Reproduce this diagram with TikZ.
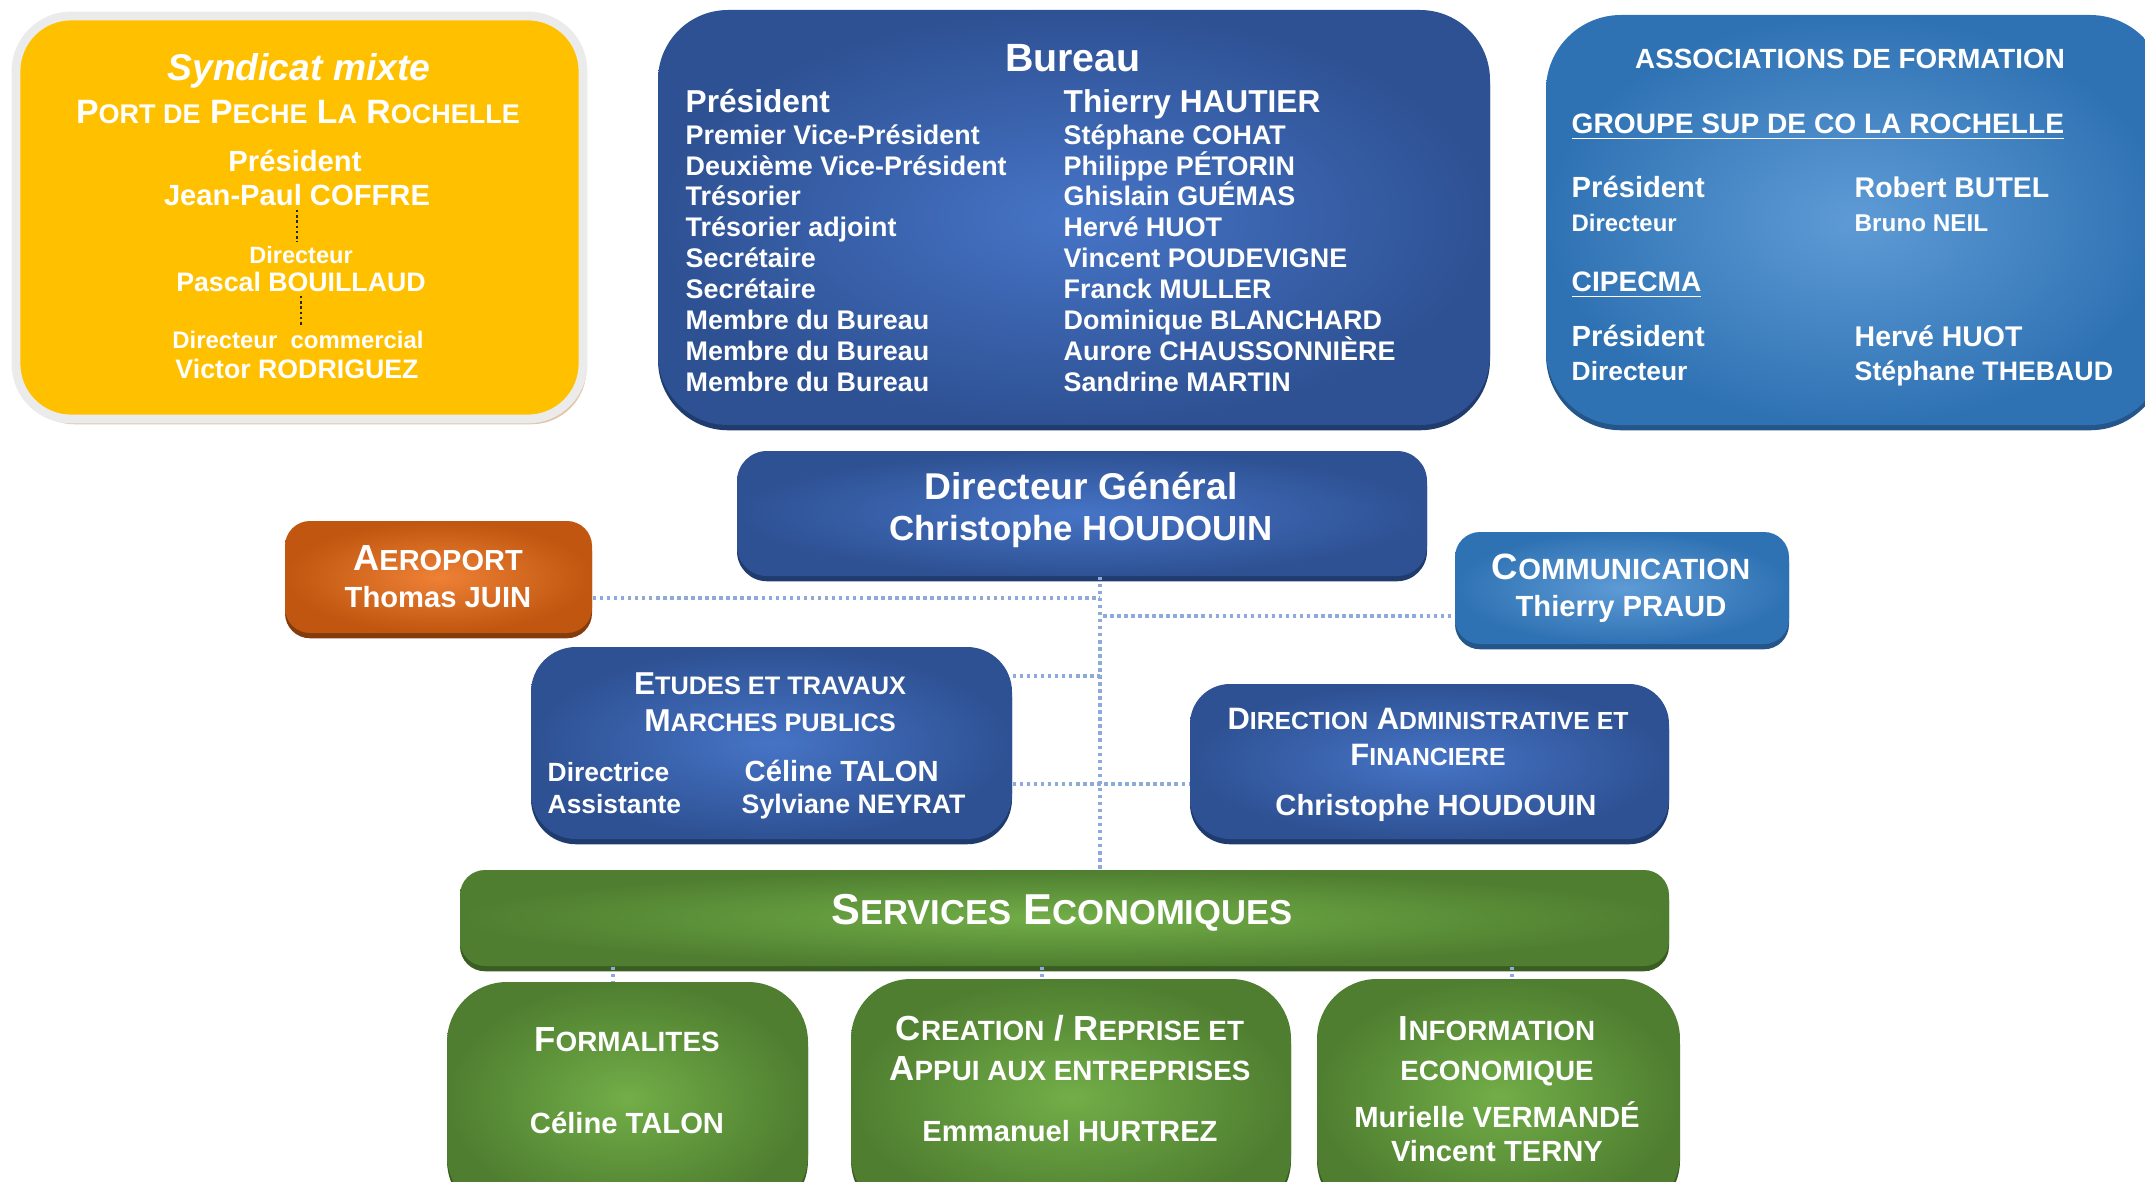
\documentclass[tikz,border=0pt]{standalone}
\usepackage{fontspec}
\setmainfont{Liberation Sans}
\usetikzlibrary{fit, shadows}

\definecolor{synyellow}{HTML}{FFC000}
\definecolor{bluein}{HTML}{4674C6}
\definecolor{blueout}{HTML}{2E5193}
\definecolor{blueshd}{HTML}{203C6E}
\definecolor{skyin}{HTML}{5E9BD6}
\definecolor{skyout}{HTML}{2F72B3}
\definecolor{skyshd}{HTML}{24568A}
\definecolor{orin}{HTML}{EE8136}
\definecolor{orout}{HTML}{C0560F}
\definecolor{orshd}{HTML}{843C0C}
\definecolor{grin}{HTML}{72AE48}
\definecolor{grout}{HTML}{4F7E30}
\definecolor{grshd}{HTML}{3A5E22}
\definecolor{linkc}{HTML}{8EAADB}

\makeatletter
\newcommand\smcap[1]{{\fontsize{\fpeval{0.8*\f@size}}{\fpeval{0.8*\f@size}}\selectfont #1}}
\makeatother
\newcommand\fsz[1]{\fontsize{#1}{#1}\selectfont}

\begin{document}
\begin{tikzpicture}[
  x=0.01cm, y=-0.01cm,
  box/.style={inner sep=0pt, rounded corners=#1},
  ybox/.style={box=#1, fill=synyellow, draw=black!8, line width=2.5pt,
               general shadow={fill=brown!45!white, shadow xshift=1pt, shadow yshift=-1.5pt}},
  darkbox/.style={box=#1, inner color=bluein, outer color=blueout,
                  general shadow={fill=blueshd, shadow yshift=-1.5pt}},
  skybox/.style={box=#1, inner color=skyin, outer color=skyout,
                 general shadow={fill=skyshd, shadow yshift=-1.5pt}},
  orbox/.style={box=#1, inner color=orin, outer color=orout,
                general shadow={fill=orshd, shadow yshift=-1.5pt}},
  greenbox/.style={box=#1, inner color=grin, outer color=grout,
                   general shadow={fill=grshd, shadow yshift=-1.5pt}},
  txt/.style={text=white, inner sep=0pt, anchor=mid},
  ltxt/.style={txt, anchor=mid west},
  link/.style={draw=linkc, line width=1pt, dash pattern=on 1pt off 1pt},
  dots/.style={draw=black!85, line width=0.7pt, dash pattern=on 0.7pt off 0.8pt}
]
\useasboundingbox (0,0) rectangle (2145,1182);

% syndicat mixte
\node[ybox=0.55cm, fit={(16,16) (583,419)}] (syndicat) {};
\node[txt, font=\bfseries\itshape\fsz{10.6}] (synd) at (299,71) {Syndicat mixte};
\node[txt, font=\bfseries\fsz{9.6}] (port) at (298,114) {P\smcap{ORT DE} P\smcap{ECHE} L\smcap{A} R\smcap{OCHELLE}};
\node[txt, font=\bfseries\fsz{8.3}] (spres) at (295,162) {Président};
\node[txt, font=\bfseries\fsz{8.3}] (coffre) at (297,196) {Jean-Paul COFFRE};
\node[txt, font=\bfseries\fsz{6.7}] (sdir) at (301,254) {Directeur};
\node[txt, font=\bfseries\fsz{7.6}] (bouillaud) at (301,282) {Pascal BOUILLAUD};
\node[txt, font=\bfseries\fsz{6.8}] (dircom) at (298,339) {Directeur~~commercial};
\node[txt, font=\bfseries\fsz{7.6}] (rodriguez) at (297,369) {Victor RODRIGUEZ};
\draw[dots, shorten <=1pt, shorten >=1pt] (coffre.south) -- (coffre.south |- sdir.north);
\draw[dots, shorten <=1pt, shorten >=1pt] (bouillaud.south) -- (bouillaud.south |- dircom.north);

% bureau
\node[darkbox=0.7cm, fit={(658,10) (1490,425)}] (bureau) {};
\node[txt, font=\bfseries\fsz{11.2}] (bureautitle) at (1073,62) {Bureau};
\node[ltxt, font=\bfseries\fsz{9}] (bpres) at (685,103) {Président};
\node[ltxt, font=\bfseries\fsz{9}] (bhautier) at (1063,103) {Thierry HAUTIER};
\foreach \role/\who [count=\i] in {Premier Vice-Président/Stéphane COHAT,
    Deuxième Vice-Président/Philippe PÉTORIN, Trésorier/Ghislain GUÉMAS,
    Trésorier adjoint/Hervé HUOT, Secrétaire/Vincent POUDEVIGNE,
    Secrétaire/Franck MULLER, Membre du Bureau/Dominique BLANCHARD,
    Membre du Bureau/Aurore CHAUSSONNIÈRE, Membre du Bureau/Sandrine MARTIN}{
  \node[ltxt, font=\bfseries\fsz{7.65}] (brole\i) at (685,{104+30.9*\i}) {\role};
  \node[ltxt, font=\bfseries\fsz{7.65}] (bname\i) at (1063,{104+30.9*\i}) {\who};
}

% associations de formation
\node[skybox=0.75cm, fit={(1546,15) (2165,425)}] (assoc) {};
\node[txt, font=\bfseries\fsz{7.9}] (assoctitle) at (1850,59) {ASSOCIATIONS DE FORMATION};
\node[ltxt, font=\bfseries\fsz{8}] (supdeco) at (1571,124) {\underline{GROUPE SUP DE CO LA ROCHELLE}};
\node[ltxt, font=\bfseries\fsz{8.3}] (apres1) at (1571,188) {Président};
\node[ltxt, font=\bfseries\fsz{8.1}] (butel) at (1854,188) {Robert BUTEL};
\node[ltxt, font=\bfseries\fsz{6.8}] (adir1) at (1571,222) {Directeur};
\node[ltxt, font=\bfseries\fsz{6.9}] (neil) at (1854,222) {Bruno NEIL};
\node[ltxt, font=\bfseries\fsz{8}] (cipecma) at (1571,282) {\underline{CIPECMA}};
\node[ltxt, font=\bfseries\fsz{8.3}] (apres2) at (1571,337) {Président};
\node[ltxt, font=\bfseries\fsz{8.1}] (huot) at (1854,337) {Hervé HUOT};
\node[ltxt, font=\bfseries\fsz{7.5}] (adir2) at (1571,371) {Directeur};
\node[ltxt, font=\bfseries\fsz{7.6}] (thebaud) at (1854,371) {Stéphane THEBAUD};

% directeur general
\node[darkbox=0.3cm, fit={(737,451) (1427,576)}] (dg) {};
\node[txt, font=\bfseries\fsz{10.6}] (dgtitle) at (1081,490) {Directeur Général};
\node[txt, font=\bfseries\fsz{9.9}] (dgname) at (1081,531) {Christophe HOUDOUIN};

% aeroport, communication
\node[orbox=0.25cm, fit={(285,521) (592,633)}] (aero) {};
\node[txt, font=\bfseries\fsz{10.3}] (aerotitle) at (438,561) {A\smcap{EROPORT}};
\node[txt, font=\bfseries\fsz{8.3}] (juin) at (438,598) {Thomas JUIN};
\node[skybox=0.25cm, fit={(1455,532) (1789,644)}] (comm) {};
\node[txt, font=\bfseries\fsz{10.4}] (commtitle) at (1621,570) {C\smcap{OMMUNICATION}};
\node[txt, font=\bfseries\fsz{8.3}] (praud) at (1621,607) {Thierry PRAUD};

% etudes et travaux
\node[darkbox=0.45cm, fit={(531,647) (1012,839)}] (etudes) {};
\node[txt, font=\bfseries\fsz{9}] (et1) at (770,685) {E\smcap{TUDES ET TRAVAUX}};
\node[txt, font=\bfseries\fsz{9}] (et2) at (770,722) {M\smcap{ARCHES PUBLICS}};
\node[ltxt, font=\bfseries\fsz{7.5}] (edir) at (547,772) {Directrice};
\node[ltxt, font=\bfseries\fsz{7.5}] (eass) at (547,804) {Assistante};
\node[ltxt, font=\bfseries\fsz{8.3}] (talon) at (744,772) {Céline TALON};
\node[ltxt, font=\bfseries\fsz{7.6}] (neyrat) at (741,804) {Sylviane NEYRAT};

% direction administrative
\node[darkbox=0.4cm, fit={(1190,684) (1669,839)}] (daf) {};
\node[txt, font=\bfseries\fsz{8.8}] (daf1) at (1428,720) {D\smcap{IRECTION} A\smcap{DMINISTRATIVE ET}};
\node[txt, font=\bfseries\fsz{8.8}] (daf2) at (1428,756) {F\smcap{INANCIERE}};
\node[txt, font=\bfseries\fsz{8.3}] (dafname) at (1436,806) {Christophe HOUDOUIN};

% services economiques
\node[greenbox=0.25cm, fit={(460,870) (1669,966)}] (seco) {};
\node[txt, font=\bfseries\fsz{12.3}] (secotitle) at (1062,915) {S\smcap{ERVICES} E\smcap{CONOMIQUES}};
\node[greenbox=0.6cm, fit={(447,982) (808,1215)}] (formal) {};
\node[txt, font=\bfseries\fsz{9.9}] (formtitle) at (627,1042) {F\smcap{ORMALITES}};
\node[txt, font=\bfseries\fsz{8.3}] (formname) at (627,1124) {Céline TALON};
\node[greenbox=0.6cm, fit={(851,979) (1291,1215)}] (creation) {};
\node[txt, font=\bfseries\fsz{9.9}] (cre1) at (1070,1031) {C\smcap{REATION} / R\smcap{EPRISE ET}};
\node[txt, font=\bfseries\fsz{9.9}] (cre2) at (1070,1071) {A\smcap{PPUI AUX ENTREPRISES}};
\node[txt, font=\bfseries\fsz{8.3}] (hurtrez) at (1070,1132) {Emmanuel HURTREZ};
\node[greenbox=0.6cm, fit={(1317,979) (1680,1215)}] (info) {};
\node[txt, font=\bfseries\fsz{9.9}] (info1) at (1497,1031) {I\smcap{NFORMATION}};
\node[txt, font=\bfseries\fsz{9.9}] (info2) at (1497,1071) {\smcap{ECONOMIQUE}};
\node[txt, font=\bfseries\fsz{8.3}] (vermande) at (1497,1118) {Murielle VERMANDÉ};
\node[txt, font=\bfseries\fsz{8.3}] (terny) at (1497,1152) {Vincent TERNY};

% liaisons
\coordinate (trunk) at (1100,0);
\coordinate (aerojoin) at (1100,598);
\coordinate (commjoin) at (1103,616);
\coordinate (etjoin) at (1100,676);
\coordinate (dafjoin) at (1100,784);
\coordinate (formjoin) at (613,0);
\coordinate (crejoin) at (1042,0);
\coordinate (infojoin) at (1512,0);
\draw[link] (dg.south -| trunk) -- (seco.north -| trunk);
\draw[link] (aero.east |- aerojoin) -- (aerojoin);
\draw[link] (commjoin) -- (comm.west |- commjoin);
\draw[link] (etudes.east |- etjoin) -- (etjoin);
\draw[link] (etudes.east |- dafjoin) -- (daf.west |- dafjoin);
\draw[link] (seco.south -| formjoin) -- (formal.north -| formjoin);
\draw[link] (seco.south -| crejoin) -- (creation.north -| crejoin);
\draw[link] (seco.south -| infojoin) -- (info.north -| infojoin);
\end{tikzpicture}
\end{document}
